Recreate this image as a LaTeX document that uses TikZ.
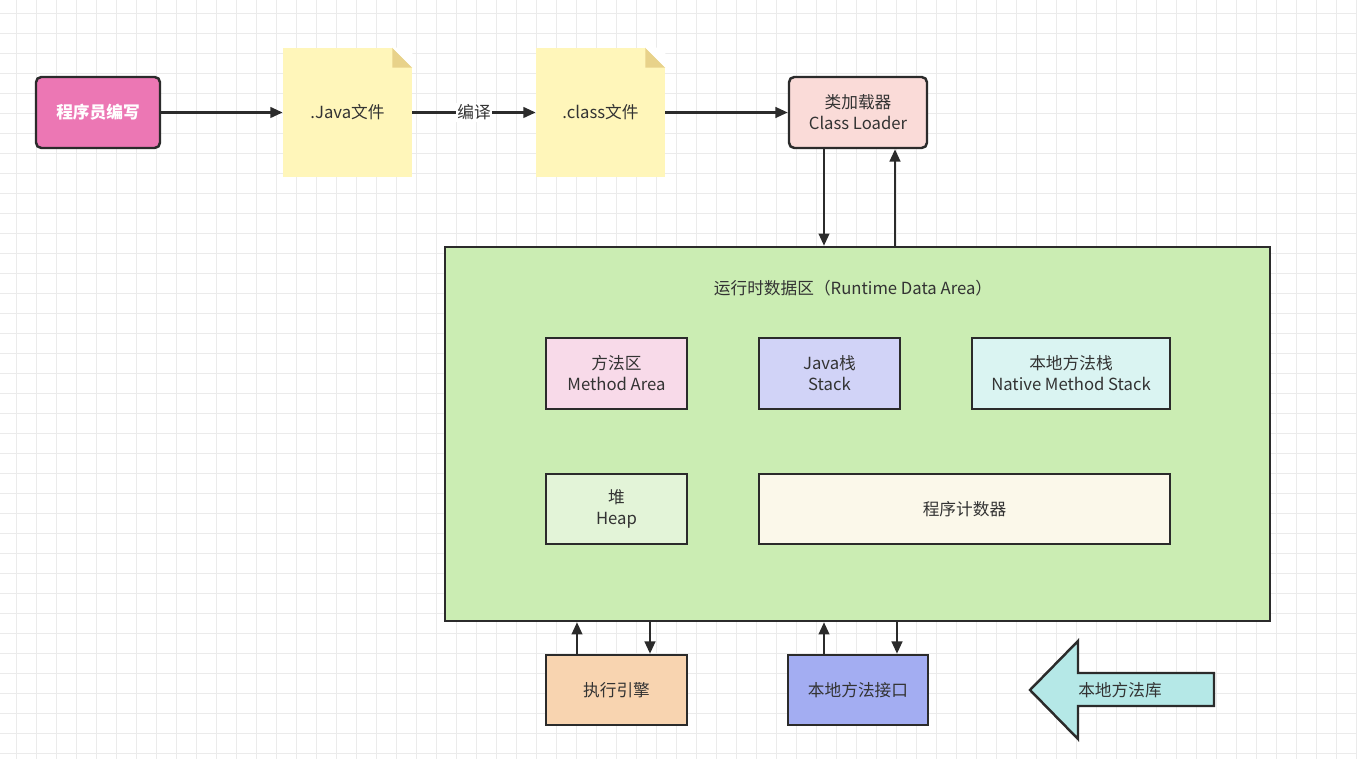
\documentclass[tikz,border=0pt]{standalone}
\usepackage{fontspec}
\setmainfont{Noto Sans CJK SC}
\usetikzlibrary{arrows.meta}
\definecolor{pinkbox}{HTML}{EC77B4}
\definecolor{notefill}{HTML}{FFF6BA}
\definecolor{notefold}{HTML}{E8D28A}
\definecolor{loaderfill}{HTML}{FADBD8}
\definecolor{areafill}{HTML}{CBEDB3}
\definecolor{methodfill}{HTML}{F8DAE9}
\definecolor{stackfill}{HTML}{D1D3F7}
\definecolor{nstackfill}{HTML}{DAF4F2}
\definecolor{heapfill}{HTML}{E3F4D8}
\definecolor{pcfill}{HTML}{FBF8EA}
\definecolor{enginefill}{HTML}{F8D4B0}
\definecolor{nifill}{HTML}{A3ADF2}
\definecolor{libfill}{HTML}{B5E8E7}
\definecolor{edge}{HTML}{2B2B2B}
\tikzset{
  box/.style={draw=edge,line width=1.4pt,align=center,inner sep=0pt,font=\fontsize{9.5}{12}\selectfont,text=black!80},
  note/.style={fill=notefill,minimum width=2.58cm,minimum height=2.58cm,font=\fontsize{9.5}{12}\selectfont,text=black!80},
  arr/.style={draw=edge,line width=1.4pt,-{Triangle[length=7pt,width=6pt]}}
}
\begin{document}
\begin{tikzpicture}[x=0.02cm,y=-0.02cm]
  \useasboundingbox (0,0) rectangle (1357,759);
  % grid
  \foreach \gx in {16.7,36.7,...,1357} \draw[black!8,line width=0.4pt] (\gx,0) -- (\gx,759);
  \foreach \gy in {13.3,33.3,...,759} \draw[black!8,line width=0.4pt] (0,\gy) -- (1357,\gy);
  % top row
  \node [box,rounded corners=3pt,fill=pinkbox,minimum width=2.48cm,minimum height=1.42cm,text=white,font=\fontsize{9.5}{12}\selectfont\bfseries] (coder) at (98,112.5) {程序员编写};
  \node [note] (java) at (347.5,112.5) {.Java文件};
  \node [note] (class) at (600.5,112.5) {.class文件};
  \fill [notefold] (java.north east) ++(-20,0) -- ++(20,20) -- ++(-20,0) -- cycle;
  \fill [white] (java.north east) ++(-20,0) -- ++(20,0) -- ++(0,20) -- cycle;
  \fill [notefold] (class.north east) ++(-20,0) -- ++(20,20) -- ++(-20,0) -- cycle;
  \fill [white] (class.north east) ++(-20,0) -- ++(20,0) -- ++(0,20) -- cycle;
  \node [box,rounded corners=3pt,fill=loaderfill,minimum width=2.76cm,minimum height=1.42cm] (loader) at (858,112.5) {类加载器\\Class Loader};
  \draw [arr] (coder) -- (java);
  \draw [arr] (java) -- node [fill=white,inner sep=1pt,font=\fontsize{9.5}{12}\selectfont,text=black!80] {编译} (class);
  \draw [arr] (class) -- (loader);
  % runtime data area
  \node [box,fill=areafill,minimum width=16.5cm,minimum height=7.48cm] (rda) at (857.5,434) {};
  \node [font=\fontsize{9.5}{12}\selectfont,text=black!80] (title) at (853,288) {运行时数据区（Runtime Data Area）};
  \draw [arr] (loader.south -| 824,0) -- (rda.north -| 824,0);
  \draw [arr] (rda.north -| 895,0) -- (loader.south -| 895,0);
  \node [box,fill=methodfill,minimum width=2.82cm,minimum height=1.42cm] (method) at (616.5,373.5) {方法区\\Method Area};
  \node [box,fill=stackfill,minimum width=2.82cm,minimum height=1.42cm] (stack) at (829.5,373.5) {Java栈\\Stack};
  \node [box,fill=nstackfill,minimum width=3.96cm,minimum height=1.42cm] (nstack) at (1071,373.5) {本地方法栈\\Native Method Stack};
  \node [box,fill=heapfill,minimum width=2.82cm,minimum height=1.4cm] (heap) at (616.5,509) {堆\\Heap};
  \node [box,fill=pcfill,minimum width=8.22cm,minimum height=1.4cm] (pc) at (964.5,509) {程序计数器};
  % bottom row
  \node [box,fill=enginefill,minimum width=2.82cm,minimum height=1.4cm] (engine) at (616.5,690) {执行引擎};
  \node [box,fill=nifill,minimum width=2.8cm,minimum height=1.4cm] (native) at (858,690) {本地方法接口};
  \draw [arr] (engine.north -| 577,0) -- (rda.south -| 577,0);
  \draw [arr] (rda.south -| 650,0) -- (engine.north -| 650,0);
  \draw [arr] (native.north -| 824,0) -- (rda.south -| 824,0);
  \draw [arr] (rda.south -| 897,0) -- (native.north -| 897,0);
  \draw [draw=edge,line width=1.4pt,fill=libfill] (1030,690) -- (1078,641) -- (1078,673) -- (1214,673) -- (1214,706) -- (1078,706) -- (1078,739) -- cycle;
  \node [font=\fontsize{9.5}{12}\selectfont,text=black!80] (lib) at (1120,690) {本地方法库};
\end{tikzpicture}
\end{document}
